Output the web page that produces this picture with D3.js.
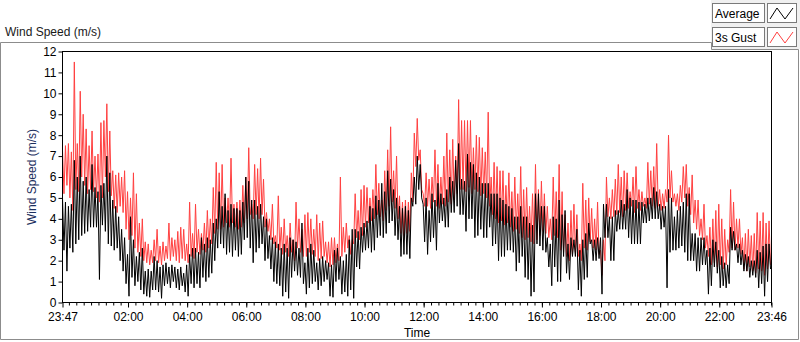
<!DOCTYPE html>
<html>
<head>
<meta charset="utf-8">
<script src="https://cdn.jsdelivr.net/npm/d3@7"></script>
<style>
  body { margin: 0; background: #fff; }
  text { font-family: "Liberation Sans", Arial, sans-serif; font-size: 12px; }
</style>
</head>
<body>
<div id="chart"></div>
<script>
// one slot every 6 minutes from 23:47: highest and lowest reading seen in that slot
var gustMax = [
  7.3, 7.5, 7.6, 7.2, 11.5, 7.6, 10.1, 9.0, 8.3, 7.5, 8.2, 7.0, 7.1, 8.6, 8.7, 9.5, 8.2, 6.3, 6.1, 6.2,
  6.0, 6.3, 5.3, 5.0, 6.2, 5.2, 3.8, 4.0, 2.9, 2.8, 2.5, 3.0, 3.5, 2.7, 2.9, 2.7, 3.8, 3.1, 3.0, 3.4, 3.6,
  3.5, 2.8, 4.8, 3.3, 4.7, 3.5, 3.3, 3.8, 4.4, 4.0, 5.5, 6.7, 6.2, 6.6, 5.0, 5.0, 6.9, 4.7, 4.8, 4.9,
  5.6, 6.0, 7.4, 4.7, 6.6, 6.4, 6.9, 5.9, 4.3, 4.0, 4.7, 3.2, 5.1, 3.6, 4.0, 3.2, 3.8, 3.0, 4.8, 4.0, 3.5,
  4.2, 4.3, 4.0, 3.5, 4.2, 3.8, 3.9, 2.9, 2.9, 3.1, 3.1, 2.8, 6.0, 3.6, 3.8, 3.2, 3.0, 5.2, 4.4, 5.4,
  5.6, 5.5, 5.0, 5.4, 6.6, 5.7, 4.9, 6.3, 7.3, 8.4, 6.3, 7.0, 5.1, 4.8, 4.9, 4.8, 6.2, 8.1, 8.8, 7.3, 5.2,
  6.2, 5.9, 6.0, 7.3, 6.6, 6.0, 7.0, 8.1, 7.3, 7.8, 7.0, 9.7, 8.7, 8.7, 8.7, 8.7, 7.4, 8.0, 7.9, 7.4,
  7.2, 9.1, 6.0, 6.7, 6.5, 6.3, 6.3, 5.6, 6.2, 5.3, 6.0, 5.2, 6.5, 5.4, 5.5, 4.6, 5.2, 6.6, 5.4, 5.8, 5.2,
  4.6, 4.0, 6.0, 5.3, 6.6, 5.3, 4.2, 3.8, 4.4, 4.7, 4.2, 2.8, 5.7, 4.9, 5.0, 4.5, 4.0, 4.8, 2.5, 3.0,
  6.0, 5.0, 5.4, 5.9, 6.6, 6.0, 6.3, 6.2, 5.3, 6.0, 6.5, 5.4, 5.3, 5.0, 6.7, 6.3, 6.5, 7.6, 5.4, 5.2, 5.4,
  8.0, 6.3, 5.2, 5.2, 5.6, 6.5, 6.6, 5.5, 6.1, 4.9, 4.9, 4.0, 4.7, 3.2, 3.6, 4.0, 4.4, 4.7, 4.0, 3.5,
  3.0, 5.4, 4.8, 4.0, 4.0, 3.1, 3.3, 3.5, 3.2, 3.3, 4.3, 3.9, 4.3, 3.8, 3.9
];
var gustMin = [
  5.2, 5.6, 5.0, 4.4, 5.4, 5.3, 6.0, 5.6, 5.2, 5.4, 5.3, 5.0, 4.8, 5.0, 6.0, 5.3, 5.1, 4.5, 4.3, 4.6,
  4.3, 3.5, 3.0, 3.2, 2.6, 2.4, 2.2, 2.0, 1.9, 1.8, 1.9, 2.0, 1.9, 1.8, 2.0, 2.1, 2.0, 2.2, 2.0, 1.9, 2.1,
  2.0, 1.9, 2.2, 2.1, 2.4, 2.3, 2.5, 2.4, 2.6, 2.8, 3.3, 3.5, 3.5, 3.6, 3.8, 3.6, 3.8, 3.6, 3.5, 3.6,
  3.8, 4.0, 4.2, 4.0, 4.2, 4.0, 4.2, 3.6, 3.4, 3.0, 2.8, 2.6, 2.5, 2.3, 2.4, 2.2, 2.4, 2.0, 2.6, 2.4, 2.2,
  2.2, 2.4, 2.3, 2.2, 2.0, 2.1, 2.2, 1.9, 1.7, 1.8, 1.9, 2.0, 2.2, 2.4, 2.6, 2.3, 2.8, 3.1, 3.0, 3.2,
  3.6, 3.8, 3.9, 4.0, 4.2, 4.1, 3.9, 4.4, 4.6, 4.8, 4.5, 4.0, 3.3, 3.2, 3.3, 3.4, 4.8, 6.5, 6.8, 5.4, 4.6,
  4.6, 4.5, 4.8, 4.6, 4.5, 4.7, 4.6, 4.8, 4.7, 4.9, 5.2, 5.4, 5.4, 5.3, 5.5, 5.2, 5.4, 5.3, 5.1, 5.2,
  5.0, 4.6, 4.2, 4.0, 3.8, 3.9, 3.7, 3.8, 3.6, 3.4, 3.5, 3.3, 3.1, 3.0, 3.1, 2.9, 2.8, 3.0, 3.2, 3.4, 3.3,
  3.1, 3.0, 3.2, 3.1, 2.5, 2.4, 2.2, 2.0, 2.3, 2.4, 2.2, 2.0, 2.6, 2.5, 2.9, 2.6, 2.5, 2.3, 1.3, 2.0,
  4.1, 4.0, 4.1, 4.2, 4.3, 4.1, 4.4, 4.5, 4.6, 4.3, 4.5, 4.4, 4.6, 4.5, 4.7, 4.6, 4.5, 4.6, 4.4, 4.5, 4.8,
  5.0, 4.8, 4.6, 4.4, 4.8, 5.0, 4.6, 4.2, 3.8, 3.5, 3.2, 3.0, 2.6, 2.2, 1.8, 1.9, 1.7, 1.8, 1.6, 1.8,
  2.4, 2.6, 2.5, 2.6, 2.3, 1.6, 1.5, 1.7, 1.5, 1.4, 1.6, 1.5, 1.3, 1.6, 1.8
];
var avgMax = [
  5.0, 4.8, 4.6, 4.7, 6.8, 6.0, 7.0, 5.8, 6.0, 5.4, 6.6, 5.5, 5.3, 5.6, 5.7, 7.0, 6.2, 4.9, 4.6, 4.1,
  3.5, 3.1, 2.3, 4.1, 3.0, 2.2, 2.4, 2.6, 1.5, 1.6, 1.5, 2.2, 2.0, 1.7, 1.8, 1.9, 1.7, 1.8, 1.7, 1.6, 1.7,
  1.4, 1.8, 2.3, 2.6, 2.6, 2.4, 3.1, 2.8, 3.1, 3.0, 3.8, 4.0, 5.3, 4.6, 5.2, 4.4, 4.7, 4.5, 4.5, 4.4,
  4.8, 6.0, 5.8, 4.9, 4.9, 4.6, 4.7, 4.1, 4.0, 3.2, 3.1, 2.9, 2.8, 2.6, 2.8, 2.6, 3.1, 3.0, 2.9, 2.6, 3.8,
  1.9, 2.6, 2.8, 2.5, 1.9, 2.1, 2.2, 2.0, 1.9, 1.8, 2.5, 2.6, 2.2, 2.0, 2.3, 3.0, 3.5, 3.5, 3.4, 3.6,
  3.8, 3.9, 4.6, 4.5, 5.1, 4.9, 5.7, 5.3, 6.3, 5.9, 5.4, 5.0, 4.6, 4.5, 4.6, 4.4, 5.0, 6.0, 7.0, 6.6, 4.7,
  5.0, 4.4, 5.2, 4.9, 5.7, 5.2, 5.0, 5.4, 6.0, 5.8, 6.8, 7.6, 5.9, 5.8, 7.1, 6.7, 6.6, 6.2, 6.0, 5.7,
  5.7, 5.7, 5.2, 5.2, 5.2, 5.0, 4.9, 4.7, 4.6, 4.5, 4.1, 4.1, 4.6, 4.1, 4.1, 3.8, 3.7, 5.2, 5.2, 4.6, 4.6,
  3.1, 2.8, 4.1, 4.0, 4.9, 4.2, 4.4, 2.8, 3.1, 3.0, 3.5, 2.5, 3.0, 3.3, 3.8, 3.0, 3.0, 3.1, 3.1, 4.7,
  4.7, 4.1, 4.1, 4.4, 4.4, 4.9, 4.7, 5.4, 5.0, 4.9, 4.9, 4.8, 4.8, 4.7, 5.0, 5.0, 5.5, 5.3, 4.7, 4.6, 4.6,
  5.4, 5.0, 4.1, 4.4, 4.6, 4.8, 5.2, 5.2, 3.3, 3.3, 3.1, 3.1, 3.1, 2.5, 2.6, 3.0, 2.9, 2.5, 2.2, 1.9,
  1.8, 3.6, 3.4, 2.8, 2.8, 2.5, 2.3, 2.2, 2.0, 2.0, 2.5, 2.4, 2.7, 2.8, 2.8
];
var avgMin = [
  2.5, 1.5, 2.6, 2.4, 2.8, 3.0, 3.2, 3.3, 3.4, 3.6, 3.6, 3.6, 1.1, 3.7, 3.4, 2.8, 2.7, 2.5, 2.6, 2.0,
  1.5, 0.9, 0.3, 1.2, 0.8, 1.0, 0.6, 0.4, 0.3, 0.25, 0.6, 0.6, 0.5, 0.2, 0.8, 0.9, 0.7, 1.0, 0.7, 0.6, 0.8,
  0.5, 0.3, 0.9, 0.7, 0.9, 0.7, 1.2, 1.0, 1.2, 1.4, 2.0, 2.6, 2.8, 2.6, 2.3, 2.4, 2.2, 2.5, 2.2, 2.3,
  3.0, 3.1, 2.6, 1.9, 2.4, 2.6, 2.8, 2.0, 2.1, 1.6, 1.0, 0.9, 0.8, 0.3, 0.5, 0.2, 1.2, 1.5, 1.3, 1.2, 0.9,
  0.4, 0.7, 0.9, 1.0, 0.6, 0.8, 1.0, 1.1, 0.3, 0.25, 1.0, 1.1, 0.4, 0.5, 0.3, 0.6, 0.2, 1.7, 1.6, 2.4,
  2.5, 2.6, 2.4, 2.5, 3.1, 3.2, 3.1, 3.3, 3.8, 3.9, 3.2, 3.0, 2.2, 2.3, 2.3, 2.1, 4.6, 4.7, 5.4, 5.0, 2.9,
  2.3, 2.9, 3.1, 2.5, 3.8, 3.9, 3.6, 3.6, 4.3, 4.3, 4.6, 4.2, 4.2, 3.4, 4.0, 4.0, 3.1, 3.2, 3.5, 3.1,
  3.1, 3.6, 2.7, 2.8, 2.0, 2.2, 2.2, 2.5, 2.5, 2.4, 1.5, 1.9, 2.2, 1.2, 1.1, 0.3, 0.5, 2.8, 2.7, 2.5, 2.4,
  1.7, 0.8, 1.7, 1.0, 1.0, 2.2, 1.4, 1.1, 2.2, 2.2, 0.6, 0.3, 1.1, 1.2, 2.8, 2.0, 2.0, 2.1, 0.4, 3.1,
  3.1, 2.0, 2.0, 3.4, 3.5, 3.5, 3.5, 3.1, 2.8, 2.8, 2.8, 2.8, 3.8, 3.8, 3.9, 4.0, 4.0, 4.0, 3.5, 3.6, 0.7,
  2.4, 2.5, 2.5, 2.6, 2.7, 2.4, 2.0, 2.0, 2.0, 1.5, 1.5, 1.8, 1.8, 0.4, 0.8, 1.7, 1.4, 0.7, 0.8, 0.7,
  0.9, 2.5, 2.5, 1.9, 1.8, 1.5, 1.5, 1.2, 1.3, 1.2, 0.7, 0.9, 0.3, 1.0, 1.6
];

var yTicks = [0, 1, 2, 3, 4, 5, 6, 7, 8, 9, 10, 11, 12];
var xTickLabels = ["23:47", "02:00", "04:00", "06:00", "08:00", "10:00", "12:00",
                   "14:00", "16:00", "18:00", "20:00", "22:00", "23:46"];
var seriesNames = ["Average", "3s Gust"];
var seriesColors = ["#000000", "#ff4040"];

var startTime = new Date(2020, 0, 1, 23, 47);
var endTime = new Date(2020, 0, 2, 23, 46);
var slotMinutes = 6;

// turn slot max/min pairs into a trace: max at slot start, min half a slot later
function toTrace(maxArr, minArr) {
  var pts = [];
  maxArr.forEach(function(d, i) {
    pts.push({ t: new Date(startTime.getTime() + i * slotMinutes * 60000), v: d });
    pts.push({ t: new Date(startTime.getTime() + (i + 0.5) * slotMinutes * 60000), v: minArr[i] });
  });
  return pts;
}

// plot area
var margin = { top: 51.5, right: 28.5, bottom: 39.5, left: 62.5 },
    width = 800 - margin.left - margin.right,
    height = 342 - margin.top - margin.bottom;

var svg = d3.select("#chart")
  .append("svg")
  .attr("width", 800)
  .attr("height", 342);

// outer frame and legend panel
svg.append("rect")
  .attr("x", 711).attr("y", 0)
  .attr("width", 89).attr("height", 49)
  .attr("fill", "#f0f0f0");

svg.append("path")
  .attr("d", "M0.5,42.5 H711.5 V49.5 H798.5 V339.5 H0.5 Z")
  .attr("fill", "none")
  .attr("stroke", "#8c8c8c");

svg.append("text")
  .attr("x", 5).attr("y", 36)
  .attr("fill", "#1a1a1a")
  .text("Wind Speed (m/s)");

var x = d3.scaleTime()
  .domain([startTime, endTime])
  .range([0, width]);

var y = d3.scaleLinear()
  .domain([0, 12])
  .range([height, 0]);

var chart = svg.append("g")
  .attr("transform", "translate(" + margin.left + "," + margin.top + ")");

chart.append("rect")
  .attr("width", width)
  .attr("height", height)
  .attr("fill", "#fff");

// y axis
var yAxis = chart.append("g")
  .call(d3.axisLeft(y).tickValues(yTicks).tickSize(4).tickPadding(2).tickFormat(d3.format("d")));
yAxis.select(".domain").remove();
yAxis.selectAll("line").attr("stroke", "#000");
yAxis.selectAll("text")
  .attr("fill", "#000")
  .style("font-size", "12px")
  .style("font-family", "Liberation Sans, Arial, sans-serif");

// x axis: minor ticks every 15 min, major ticks at labels
var minorTicks = d3.timeMinute.every(15).range(startTime, endTime);
chart.append("g")
  .attr("transform", "translate(0," + height + ")")
  .call(d3.axisBottom(x).tickValues(minorTicks).tickSize(3).tickFormat(""))
  .call(function(g) { g.select(".domain").remove(); })
  .selectAll("line").attr("stroke", "#000");

var majorTicks = xTickLabels.map(function(d, i) {
  if (i == 0) return startTime;
  if (i == xTickLabels.length - 1) return endTime;
  return new Date(2020, 0, 2, +d.split(":")[0], 0);
});
var xAxis = chart.append("g")
  .attr("transform", "translate(0," + height + ")")
  .call(d3.axisBottom(x).tickValues(majorTicks).tickSize(5).tickPadding(5)
    .tickFormat(function(d, i) { return xTickLabels[i]; }));
xAxis.select(".domain").remove();
xAxis.selectAll("line").attr("stroke", "#000");
xAxis.selectAll("text")
  .attr("fill", "#000")
  .style("font-size", "12px")
  .style("font-family", "Liberation Sans, Arial, sans-serif");

// lines
var line = d3.line()
  .x(function(d) { return x(d.t); })
  .y(function(d) { return y(d.v); });

chart.append("path")
  .datum(toTrace(gustMax, gustMin))
  .attr("fill", "none")
  .attr("stroke", seriesColors[1])
  .attr("stroke-width", 1)
  .attr("d", line);

chart.append("path")
  .datum(toTrace(avgMax, avgMin))
  .attr("fill", "none")
  .attr("stroke", seriesColors[0])
  .attr("stroke-width", 1)
  .attr("d", line);

// plot border
chart.append("rect")
  .attr("width", width)
  .attr("height", height)
  .attr("fill", "none")
  .attr("stroke", "#000")
  .attr("stroke-width", 1);

// axis titles
svg.append("text")
  .attr("transform", "translate(36," + (margin.top + height / 2) + ") rotate(-90)")
  .attr("text-anchor", "middle")
  .attr("fill", "#1c2f5e")
  .text("Wind Speed (m/s)");

svg.append("text")
  .attr("x", margin.left + width / 2)
  .attr("y", 337)
  .attr("text-anchor", "middle")
  .attr("fill", "#000")
  .text("Time");

// legend
var legend = svg.selectAll(".legend")
  .data(seriesNames)
  .enter()
  .append("g")
  .attr("class", "legend")
  .attr("transform", function(d, i) { return "translate(712," + (3 + i * 24) + ")"; });

legend.append("rect")
  .attr("x", 0.5).attr("y", 0.5)
  .attr("width", 52).attr("height", 19)
  .attr("fill", "#fff")
  .attr("stroke", "#7a7a7a");

legend.append("text")
  .attr("x", 3).attr("y", 14.5)
  .attr("fill", "#000")
  .text(function(d) { return d; });

legend.append("rect")
  .attr("x", 55.5).attr("y", 0.5)
  .attr("width", 29).attr("height", 19)
  .attr("fill", "#fff")
  .attr("stroke", "#7a7a7a");

legend.append("path")
  .attr("d", "M58,16 L65,5 L73,16 L81,5")
  .attr("fill", "none")
  .attr("stroke", function(d, i) { return seriesColors[i]; })
  .attr("stroke-width", 1);
</script>
</body>
</html>
